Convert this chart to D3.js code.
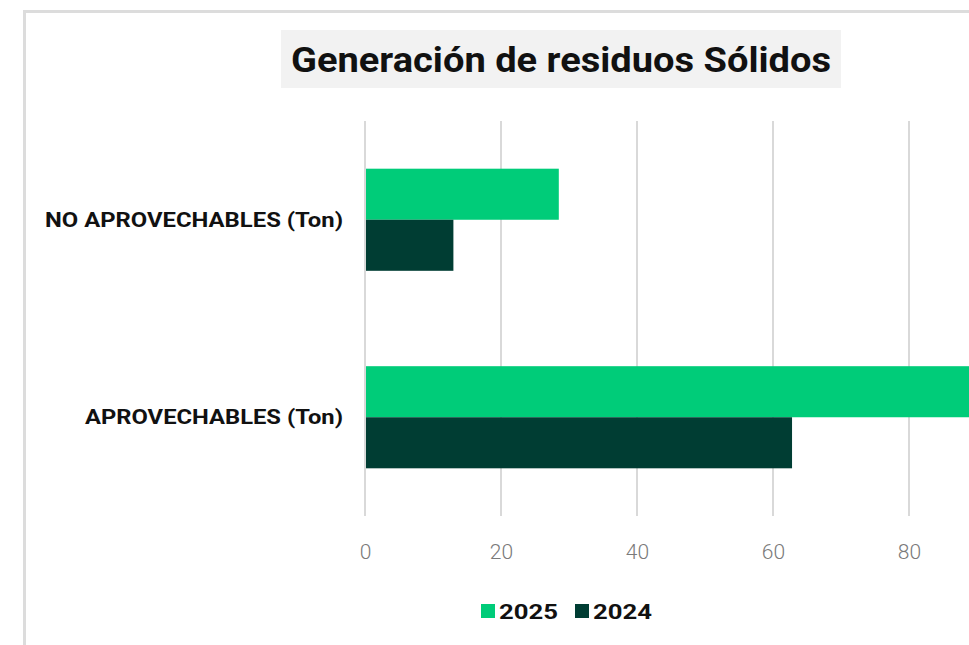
<!DOCTYPE html>
<html>
<head>
<meta charset="utf-8">
<script src="https://cdn.jsdelivr.net/npm/d3@7"></script>
<style>
  body { margin: 0; background: #fff; }
  svg { display: block; font-family: Roboto, "Liberation Sans", sans-serif; }
</style>
</head>
<body>
<div class="vis"></div>
<script>
'use strict';

// chart data
var categories = ['NO APROVECHABLES (Ton)', 'APROVECHABLES (Ton)'];
var years = ['2025', '2024'];
var values2025 = [28.5, 95];
var values2024 = [13, 62.8];
var ticks = [0, 20, 40, 60, 80];

var width = 969;
var height = 645;

var colors = { '2025': '#00cc79', '2024': '#003d33' };

var svg = d3.select('.vis')
  .append('svg')
  .attr('width', width)
  .attr('height', height);

// chart frame (cropped screenshot of a spreadsheet chart)
svg.append('rect')
  .attr('x', 24.5).attr('y', 11.5)
  .attr('width', width + 20).attr('height', height + 20)
  .attr('fill', '#fff')
  .attr('stroke', '#dcdcdc')
  .attr('stroke-width', 3);

// title
svg.append('rect')
  .attr('x', 281).attr('y', 30)
  .attr('width', 560).attr('height', 58)
  .attr('fill', '#f2f2f2');

svg.append('text')
  .attr('x', 561).attr('y', 72)
  .attr('text-anchor', 'middle')
  .attr('font-size', 35)
  .attr('font-weight', 'bold')
  .attr('fill', '#111')
  .attr('textLength', 540)
  .attr('lengthAdjust', 'spacingAndGlyphs')
  .text('Generación de residuos Sólidos');

// scales
var x = d3.scaleLinear()
  .domain([0, 100])
  .range([365, 1045]);

var y = d3.scaleBand()
  .domain(categories)
  .range([121, 516])
  .paddingInner(0.483)
  .paddingOuter(0.2415);

var ySub = d3.scaleBand()
  .domain(years)
  .range([0, y.bandwidth()]);

// gridlines
svg.append('g')
  .selectAll('line')
  .data(ticks)
  .join('line')
  .attr('x1', function(d) { return x(d); })
  .attr('x2', function(d) { return x(d); })
  .attr('y1', 121)
  .attr('y2', 516)
  .attr('stroke', '#d9d9d9')
  .attr('stroke-width', 2);

// tick labels
var xAxis = d3.axisBottom(x)
  .tickValues(ticks)
  .tickSize(0)
  .tickPadding(0);

var axisG = svg.append('g')
  .attr('transform', 'translate(0,552)')
  .call(xAxis);
axisG.select('.domain').remove();
axisG.selectAll('text')
  .attr('font-family', 'Roboto, "Liberation Sans", sans-serif')
  .attr('font-size', 21)
  .attr('font-weight', 300)
  .attr('fill', '#7a7a7a')
  .attr('dy', '0.35em');

// bars
var rows = categories.map(function(c, i) {
  return { category: c, values: [
    { year: '2025', value: values2025[i] },
    { year: '2024', value: values2024[i] }
  ]};
});

var groups = svg.append('g')
  .selectAll('g')
  .data(rows)
  .join('g')
  .attr('transform', function(d) { return 'translate(0,' + y(d.category) + ')'; });

groups.selectAll('rect')
  .data(function(d) { return d.values; })
  .join('rect')
  .attr('x', x(0) + 1)
  .attr('y', function(d) { return ySub(d.year); })
  .attr('width', function(d) { return x(d.value) - x(0) - 1; })
  .attr('height', ySub.bandwidth())
  .attr('fill', function(d) { return colors[d.year]; });

// category labels
var labelWidths = [298, 258];
svg.append('g')
  .selectAll('text')
  .data(categories)
  .join('text')
  .attr('x', 343)
  .attr('y', function(d) { return y(d) + y.bandwidth() / 2; })
  .attr('dy', '0.35em')
  .attr('text-anchor', 'end')
  .attr('font-size', 20)
  .attr('font-weight', 'bold')
  .attr('fill', '#111')
  .attr('textLength', function(d, i) { return labelWidths[i]; })
  .attr('lengthAdjust', 'spacingAndGlyphs')
  .text(function(d) { return d; });

// legend
var legendX = [481, 575];
var legend = svg.append('g')
  .selectAll('g')
  .data(years)
  .join('g')
  .attr('transform', function(d, i) { return 'translate(' + legendX[i] + ',604)'; });

legend.append('rect')
  .attr('width', 14)
  .attr('height', 14)
  .attr('fill', function(d) { return colors[d]; });

legend.append('text')
  .attr('x', 18)
  .attr('y', 7)
  .attr('dy', '0.36em')
  .attr('font-size', 21)
  .attr('font-weight', 'bold')
  .attr('fill', '#111')
  .attr('textLength', 59)
  .attr('lengthAdjust', 'spacingAndGlyphs')
  .text(function(d) { return d; });
</script>
</body>
</html>
